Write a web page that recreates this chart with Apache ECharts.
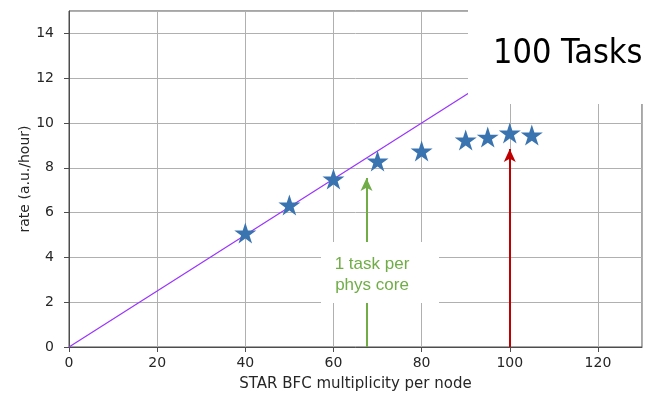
<!DOCTYPE html>
<html>
<head>
<meta charset="utf-8">
<script src="https://cdn.jsdelivr.net/npm/echarts@6/dist/echarts.min.js"></script>
<style>
  html, body { margin: 0; padding: 0; background: #fff; }
  #chart { width: 649px; height: 394px; }
</style>
</head>
<body>
<div id="chart"></div>
<script>
// measured points (multiplicity, rate)
const multiplicity = [40, 50, 60, 70, 80, 90, 95, 100, 105];
const rate = [5.09, 6.34, 7.5, 8.3, 8.75, 9.24, 9.37, 9.55, 9.46];
// ideal linear scaling line end points
const idealLine = [[0, 0], [130, 16.25]];
// annotation arrows: [x, yStart, yEnd]
const coreArrow = [67.5, 0, 7.54];
const tasksArrow = [100, 0, 8.84];
const xTicks = [0, 20, 40, 60, 80, 100, 120];

const STAR = 'path://M0,-1 L0.2245,-0.309 L0.951,-0.309 L0.363,0.118 L0.588,0.809 L0,0.382 L-0.588,0.809 L-0.363,0.118 L-0.951,-0.309 L-0.2245,-0.309 Z';

const chart = echarts.init(document.getElementById('chart'), null, { renderer: 'canvas' });

const axisFont = { fontFamily: 'DejaVu Sans', fontSize: 14, color: '#262626' };

const arrowLine = (arr, color) => ({
  silent: true,
  symbol: ['none', 'arrow'],
  symbolSize: [9, 13],
  label: { show: false },
  lineStyle: { color: color, width: 2, type: 'solid' },
  data: [[{ coord: [arr[0], arr[1]] }, { coord: [arr[0], arr[2]] }]]
});

chart.setOption({
  animation: false,
  grid: {
    left: 69, right: 7, top: 11, bottom: 47,
    outerBoundsMode: 'none',
    containLabel: false,
    show: true, borderColor: '#4d4d4d', borderWidth: 1
  },
  xAxis: {
    type: 'value',
    min: 0, max: 130, interval: 20,
    name: 'STAR BFC multiplicity per node',
    nameLocation: 'middle',
    nameGap: 30,
    nameMoveOverlap: false,
    nameTextStyle: Object.assign({}, axisFont, { fontSize: 15 }),
    axisLine: { show: true, lineStyle: { color: '#4d4d4d' } },
    axisTick: { show: true, length: 5, lineStyle: { color: '#4d4d4d' } },
    axisLabel: Object.assign({ margin: 9, showMaxLabel: false,
      formatter: v => xTicks.includes(v) ? String(v) : '' }, axisFont),
    splitLine: { show: true, lineStyle: { color: '#b0b0b0', width: 1 } }
  },
  yAxis: {
    type: 'value',
    min: 0, max: 15, interval: 2,
    name: 'rate (a.u./hour)',
    nameLocation: 'middle',
    nameGap: 37,
    nameMoveOverlap: false,
    nameTextStyle: axisFont,
    axisLine: { show: true, lineStyle: { color: '#4d4d4d' } },
    axisTick: { show: true, length: 5, lineStyle: { color: '#4d4d4d' } },
    axisLabel: Object.assign({ margin: 15, showMaxLabel: false }, axisFont),
    splitLine: { show: true, lineStyle: { color: '#b0b0b0', width: 1 } }
  },
  series: [
    {
      type: 'line',
      data: idealLine,
      symbol: 'none',
      lineStyle: { color: '#9933ff', width: 1.2 },
      z: 2
    },
    {
      type: 'scatter',
      data: multiplicity.map((x, i) => [x, rate[i]]),
      symbol: STAR,
      symbolSize: [22, 21],
      itemStyle: { color: '#3a74b0', opacity: 1 },
      z: 3
    },
    {
      type: 'line',
      data: [],
      markLine: arrowLine(coreArrow, '#70ad47'),
      z: 4
    },
    {
      type: 'line',
      data: [],
      markLine: arrowLine(tasksArrow, '#c00000'),
      z: 4
    }
  ],
  graphic: [
    {
      type: 'rect', z: 100,
      shape: { x: 321, y: 242, width: 118, height: 61 },
      style: { fill: '#ffffff' }
    },
    {
      type: 'text', z: 101,
      x: 372, y: 275,
      style: {
        text: '1 task per\nphys core',
        fill: '#70ad47',
        font: '17px "Liberation Sans"',
        align: 'center', verticalAlign: 'middle',
        lineHeight: 21
      }
    },
    {
      type: 'rect', z: 100,
      shape: { x: 468, y: 0, width: 181, height: 104 },
      style: { fill: '#ffffff' }
    },
    {
      type: 'text', z: 101,
      x: 493, y: 54,
      style: {
        text: '100 Tasks',
        fill: '#000000',
        font: '34px "DejaVu Sans Condensed", "DejaVu Sans"',
        align: 'left', verticalAlign: 'middle'
      }
    }
  ]
});
</script>
</body>
</html>
